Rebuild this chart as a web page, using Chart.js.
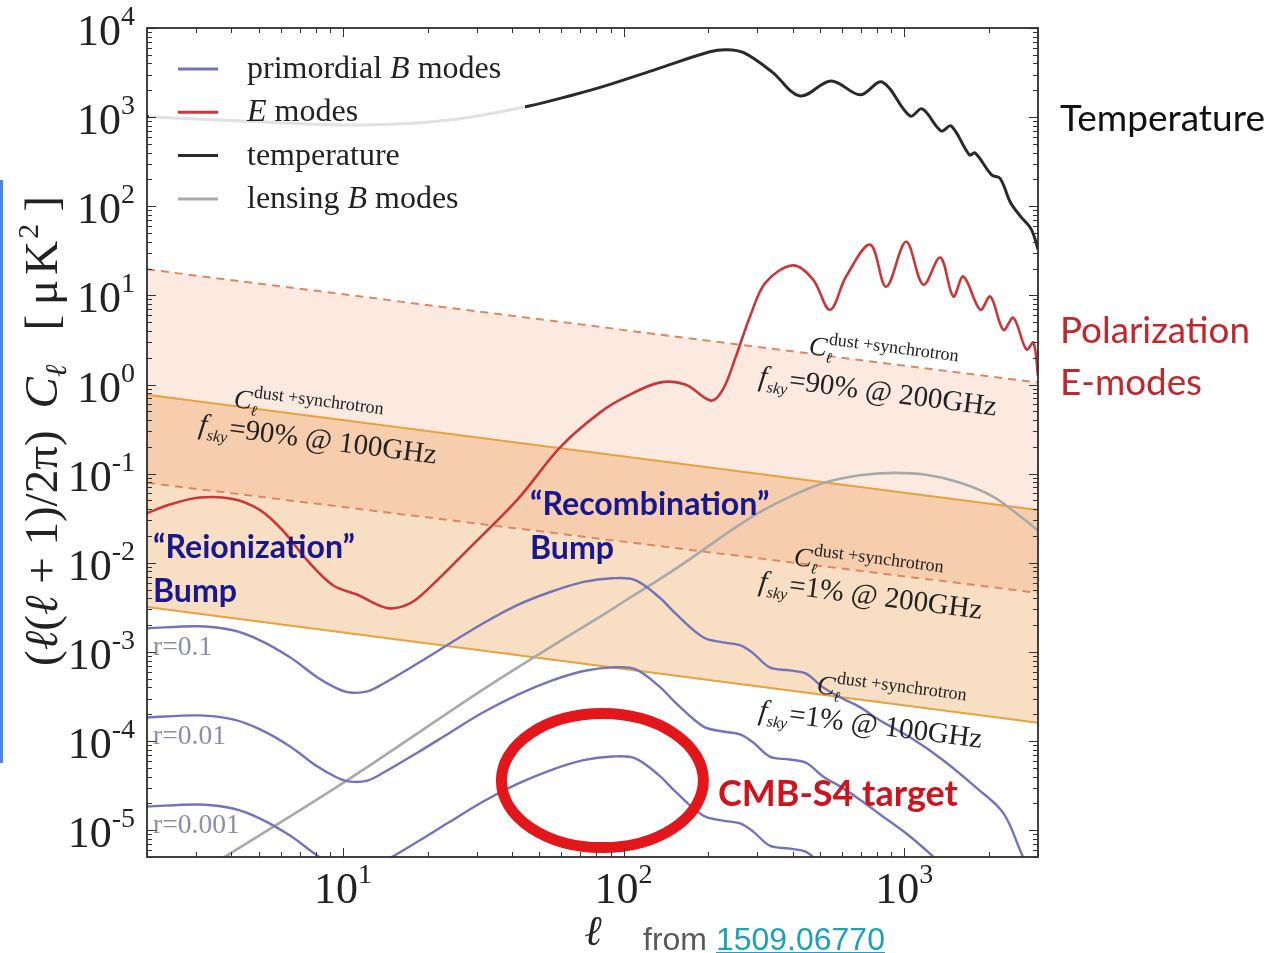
<!DOCTYPE html>
<html>
<head>
<meta charset="utf-8">
<script src="https://cdn.jsdelivr.net/npm/chart.js@4/dist/chart.umd.min.js"></script>
<style>
  html, body { margin: 0; padding: 0; background: #fff; }
  #cmb { display: block; }
</style>
</head>
<body>
<canvas id="cmb" width="1270" height="953"></canvas>
<script>
// multipole values and l(l+1)Cl/2pi [uK^2]
const ellTemp = [2, 4.5, 11.6, 24, 46, 65, 86, 132, 203, 233, 268, 338, 425, 549, 697, 834, 1050, 1160, 1355, 1470, 1710, 1790, 2050, 2200, 2390, 2600, 2840, 3000];
const clTemp = [1010, 900, 817, 927, 1334, 1750, 2240, 3480, 5410, 5700, 5280, 3220, 1730, 2550, 1780, 2480, 1030, 1240, 700, 796, 376, 396, 225, 205, 111, 77, 55, 33];

const ellE = [2, 2.41, 3.08, 4.05, 5.06, 6.1, 7.44, 9.2, 11.2, 14.4, 17.3, 20.5, 27.7, 41.8, 59.6, 82.7, 102, 134, 166, 205, 226, 251, 282, 321, 402, 473, 544, 621, 757, 863, 1016, 1170, 1345, 1497, 1626, 1868, 2028, 2258, 2450, 2727, 2890, 3000];
const clE = [0.036, 0.045, 0.054, 0.052, 0.039, 0.023, 0.0107, 0.0056, 0.0044, 0.0031, 0.0035, 0.0054, 0.0138, 0.051, 0.2, 0.49, 0.73, 1.05, 1.0, 0.66, 0.88, 2.04, 5.75, 14, 21.7, 15.1, 6.9, 16.3, 37, 12.5, 40, 13.2, 26.6, 9.7, 16.3, 6.9, 9.7, 4.1, 5.6, 2.47, 2.95, 1.25];

const ellLens = [3.5, 10.3, 31.6, 60, 82.8, 102, 134, 176, 231, 306, 401, 526, 696, 914, 1199, 1585, 2080, 2600, 3000];
const clLens = [4.3e-6, 3.6e-5, 3.8e-4, 1.35e-3, 2.5e-3, 3.8e-3, 6.5e-3, 0.0115, 0.021, 0.037, 0.057, 0.08, 0.096, 0.102, 0.097, 0.079, 0.055, 0.033, 0.023];

const ellPrim = [2, 3.08, 4.05, 5.06, 6.47, 8.08, 9.5, 10.6, 12.2, 13.9, 18.4, 24.1, 31.6, 41.8, 54.8, 72, 91, 110, 134, 153, 192, 226, 260, 289, 332, 391, 447, 514, 591, 696, 821, 1050, 1377, 1807, 2258, 2662, 3000];
const clR01 = [1.84e-3, 1.94e-3, 1.75e-3, 1.35e-3, 8.7e-4, 5.2e-4, 3.9e-4, 3.5e-4, 3.6e-4, 4.4e-4, 7.4e-4, 1.25e-3, 2.1e-3, 3.35e-3, 4.7e-3, 6.1e-3, 6.7e-3, 6.4e-3, 4.1e-3, 2.7e-3, 1.46e-3, 1.28e-3, 1.19e-3, 9.7e-4, 6.7e-4, 6.2e-4, 5.7e-4, 4.0e-4, 3.1e-4, 2.4e-4, 1.7e-4, 1.1e-4, 6.1e-5, 3.0e-5, 1.55e-5, 4.9e-6, 2.5e-6];
const clR001 = [1.84e-4, 1.94e-4, 1.75e-4, 1.35e-4, 8.7e-5, 5.2e-5, 3.9e-5, 3.5e-5, 3.6e-5, 4.4e-5, 7.4e-5, 1.25e-4, 2.1e-4, 3.3e-4, 4.7e-4, 6.1e-4, 6.7e-4, 6.4e-4, 4.1e-4, 2.7e-4, 1.46e-4, 1.28e-4, 1.19e-4, 9.7e-5, 6.7e-5, 6.2e-5, 5.7e-5, 4.0e-5, 3.1e-5, 2.2e-5, 1.5e-5, 8.5e-6, 4.0e-6, 1.8e-6, 9e-7, 4e-7, 2e-7];
const clR0001 = [1.84e-5, 1.94e-5, 1.75e-5, 1.35e-5, 8.7e-6, 5.2e-6, 3.9e-6, 3.5e-6, 3.6e-6, 4.4e-6, 7.4e-6, 1.25e-5, 2.1e-5, 3.3e-5, 4.7e-5, 6.1e-5, 6.7e-5, 6.4e-5, 4.1e-5, 2.7e-5, 1.46e-5, 1.28e-5, 1.19e-5, 9.7e-6, 6.7e-6, 6.2e-6, 5.7e-6, 4.0e-6, 3.1e-6, 2.2e-6, 1.5e-6, 8.5e-7, 4.0e-7, 1.8e-7, 9e-8, 4e-8, 2e-8];

// dust + synchrotron foreground power laws
const ellDust = [2, 3000];
const dust90at200 = [19.6, 1.05];
const dust90at100 = [0.77, 0.039];
const dust1at200 = [0.079, 0.0046];
const dust1at100 = [0.0032, 0.00016];

const xTickPowers = [1, 2, 3];
const yTickPowers = [4, 3, 2, 1, 0, -1, -2, -3, -4, -5];

// target ellipse centre (ell, value)
const targetCentre = [84, 3.6e-5];

const SERIF = '"Liberation Serif", "DejaVu Serif", serif';
const SANS = 'Lato, "Open Sans", sans-serif';
const BLUE = '#7373b9';

function pts(xs, ys) {
  return xs.map((x, i) => ({ x: x, y: ys[i] }));
}

function curve(label, xs, ys, color, width) {
  return {
    label: label,
    data: pts(xs, ys),
    borderColor: color,
    borderWidth: width,
    pointRadius: 0,
    fill: false,
    tension: 0.35
  };
}

const datasets = [
  curve('E modes', ellE, clE, '#c8383b', 2.6),
  curve('temperature', ellTemp, clTemp, '#2a2a2a', 3),
  curve('primordial B modes', ellPrim, clR01, BLUE, 2.4),
  curve('r=0.01', ellPrim, clR001, BLUE, 2.4),
  curve('r=0.001', ellPrim, clR0001, BLUE, 2.4),
  curve('lensing B modes', ellLens, clLens, '#a9a9a9', 2.6),
  { label: 'fsky 90% 200GHz', data: pts(ellDust, dust90at200), borderColor: '#d98a62', borderWidth: 2, borderDash: [8, 6],
    pointRadius: 0, tension: 0, fill: 8, backgroundColor: 'rgba(240,140,90,0.18)' },
  { label: 'fsky 90% 100GHz', data: pts(ellDust, dust90at100), borderColor: '#e6a23e', borderWidth: 2,
    pointRadius: 0, tension: 0, fill: 9, backgroundColor: 'rgba(235,160,80,0.35)' },
  { label: 'fsky 1% 200GHz', data: pts(ellDust, dust1at200), borderColor: '#d98a62', borderWidth: 2, borderDash: [8, 6],
    pointRadius: 0, tension: 0, fill: false },
  { label: 'fsky 1% 100GHz', data: pts(ellDust, dust1at100), borderColor: '#e6a23e', borderWidth: 2,
    pointRadius: 0, tension: 0, fill: false }
];

// draw a run of text pieces (sub/superscripts via dy), returns width
function drawParts(ctx, x, y, parts, color, measureOnly) {
  let cx = x;
  for (const p of parts) {
    ctx.font = p.f;
    if (!measureOnly) {
      ctx.fillStyle = p.c || color;
      ctx.fillText(p.t, cx + (p.dx || 0), y + (p.dy || 0));
    }
    if (!p.stay) cx += ctx.measureText(p.t).width + (p.dx || 0);
  }
  return cx - x;
}

function fitSize(ctx, text, fontFn, target) {
  ctx.font = fontFn(100);
  return 100 * target / ctx.measureText(text).width;
}

function dustLabel(ctx, ang, cPos, fPos, rest) {
  const cParts = [
    { t: 'C', f: `italic 27px ${SERIF}` },
    { t: 'ℓ', f: `italic 15px ${SERIF}`, dy: 6, stay: true },
    { t: 'dust +synchrotron', f: `18px ${SERIF}`, dy: -12, dx: 1 }
  ];
  const fParts = [
    { t: 'f', f: `italic 29px ${SERIF}` },
    { t: 'sky', f: `italic 16px ${SERIF}`, dy: 6, dx: 1 },
    { t: rest, f: `29px ${SERIF}`, dx: 1 }
  ];
  for (const [pos, parts] of [[cPos, cParts], [fPos, fParts]]) {
    ctx.save();
    ctx.translate(pos[0], pos[1]);
    ctx.rotate(ang);
    drawParts(ctx, 0, 0, parts, '#222');
    ctx.restore();
  }
}

const overlay = {
  id: 'overlay',
  afterDatasetsDraw(chart) {
    const ctx = chart.ctx;
    const a = chart.chartArea;
    const xs = chart.scales.x, ys = chart.scales.y;
    ctx.save();
    ctx.textBaseline = 'alphabetic';
    ctx.textAlign = 'left';

    // legend (semi-transparent white box on top of the curves)
    ctx.fillStyle = 'rgba(255,255,255,0.86)';
    ctx.fillRect(a.left + 2, a.top + 2, 376, 196);
    const legendRows = [
      { ds: 2, parts: [{ t: 'primordial ', f: `32px ${SERIF}` }, { t: 'B', f: `italic 32px ${SERIF}` }, { t: ' modes', f: `32px ${SERIF}` }] },
      { ds: 0, parts: [{ t: 'E', f: `italic 32px ${SERIF}` }, { t: ' modes', f: `32px ${SERIF}` }] },
      { ds: 1, parts: [{ t: 'temperature', f: `32px ${SERIF}` }] },
      { ds: 5, parts: [{ t: 'lensing ', f: `32px ${SERIF}` }, { t: 'B', f: `italic 32px ${SERIF}` }, { t: ' modes', f: `32px ${SERIF}` }] }
    ];
    legendRows.forEach((row, i) => {
      const y = a.top + 41 + i * 43.3;
      const ds = chart.data.datasets[row.ds];
      ctx.strokeStyle = ds.borderColor;
      ctx.lineWidth = 3;
      ctx.setLineDash([]);
      ctx.beginPath();
      ctx.moveTo(a.left + 31, y);
      ctx.lineTo(a.left + 71, y);
      ctx.stroke();
      drawParts(ctx, a.left + 100, y + 9, row.parts, '#222');
    });

    // foreground labels, rotated along the power-law lines
    const ang = Math.atan2(ys.getPixelForValue(dust90at100[1]) - ys.getPixelForValue(dust90at100[0]),
                           xs.getPixelForValue(ellDust[1]) - xs.getPixelForValue(ellDust[0]));
    dustLabel(ctx, ang, [233, 407], [198, 433], '=90% @ 100GHz');
    dustLabel(ctx, ang, [808, 354], [758, 385], '=90% @ 200GHz');
    dustLabel(ctx, ang, [793, 565], [758, 590], '=1% @ 200GHz');
    dustLabel(ctx, ang, [816, 693], [758, 719], '=1% @ 100GHz');

    // r labels
    const rFont = s => `${s}px ${SERIF}`;
    const rSize = fitSize(ctx, 'r=0.001', rFont, 87);
    ctx.font = rFont(rSize);
    ctx.fillStyle = '#8d8da6';
    ctx.fillText('r=0.1', a.left + 6, 655);
    ctx.fillText('r=0.01', a.left + 6, 744);
    ctx.fillText('r=0.001', a.left + 6, 833);

    // bump annotations
    const bold = s => `bold ${s}px ${SANS}`;
    const bSize = fitSize(ctx, '\u201CReionization\u201D', bold, 202);
    ctx.font = bold(bSize);
    ctx.fillStyle = '#17178f';
    ctx.fillText('\u201CReionization\u201D', 153, 558);
    ctx.fillText('Bump', 153, 602);
    ctx.fillText('\u201CRecombination\u201D', 530, 515);
    ctx.fillText('Bump', 530, 559);

    // CMB-S4 target ellipse + label
    const cx = xs.getPixelForValue(targetCentre[0]);
    const cy = ys.getPixelForValue(targetCentre[1]);
    ctx.strokeStyle = '#e3161c';
    ctx.lineWidth = 11;
    ctx.beginPath();
    ctx.ellipse(cx, cy, 101, 67, 0, 0, Math.PI * 2);
    ctx.stroke();
    const tSize = fitSize(ctx, 'CMB-S4 target', bold, 240);
    ctx.font = bold(tSize);
    ctx.fillStyle = '#d0121c';
    ctx.fillText('CMB-S4 target', 718, 806);

    // frame and inward ticks
    ctx.strokeStyle = '#333';
    ctx.lineWidth = 1;
    for (let e = 0; e <= 4; e++) {
      for (let m = 1; m < 10; m++) {
        const v = m * Math.pow(10, e);
        if (v < xs.min || v > xs.max) continue;
        const px = Math.round(xs.getPixelForValue(v)) + 0.5;
        const len = m === 1 ? 9 : 5;
        ctx.beginPath();
        ctx.moveTo(px, a.bottom); ctx.lineTo(px, a.bottom - len);
        ctx.moveTo(px, a.top); ctx.lineTo(px, a.top + len);
        ctx.stroke();
      }
    }
    for (let e = -6; e <= 4; e++) {
      for (let m = 1; m < 10; m++) {
        const v = m * Math.pow(10, e);
        if (v < ys.min * 0.999 || v > ys.max * 1.001) continue;
        const py = Math.round(ys.getPixelForValue(v)) + 0.5;
        const len = m === 1 ? 9 : 5;
        ctx.beginPath();
        ctx.moveTo(a.left, py); ctx.lineTo(a.left + len, py);
        ctx.moveTo(a.right, py); ctx.lineTo(a.right - len, py);
        ctx.stroke();
      }
    }
    ctx.lineWidth = 1.8;
    ctx.strokeStyle = '#2e2e2e';
    ctx.strokeRect(a.left, a.top, a.right - a.left, a.bottom - a.top);

    // tick labels 10^n
    const tickParts = p => [
      { t: '10', f: `44px ${SERIF}` },
      { t: String(p), f: `28px ${SERIF}`, dy: -20 }
    ];
    for (const p of xTickPowers) {
      const parts = tickParts(p);
      const w = drawParts(ctx, 0, 0, parts, '#222', true);
      drawParts(ctx, xs.getPixelForValue(Math.pow(10, p)) - w / 2, a.bottom + 46, parts, '#222');
    }
    for (const p of yTickPowers) {
      const parts = tickParts(p);
      const w = drawParts(ctx, 0, 0, parts, '#222', true);
      drawParts(ctx, a.left - 12 - w, ys.getPixelForValue(Math.pow(10, p)) + 17, parts, '#222');
    }

    // axis titles
    ctx.font = `italic 42px ${SERIF}`;
    ctx.fillStyle = '#222';
    ctx.textAlign = 'center';
    ctx.fillText('ℓ', 593, 945);
    ctx.textAlign = 'left';

    const F = `47px ${SERIF}`, FI = `italic 47px ${SERIF}`;
    const yTitle = [
      { t: '(', f: F }, { t: 'ℓ', f: FI }, { t: '(', f: F }, { t: 'ℓ', f: FI },
      { t: ' + 1)/2π)', f: F }, { t: 'C', f: FI, dx: 22 },
      { t: 'ℓ', f: `italic 30px ${SERIF}`, dy: 9 }, { t: '[', f: F, dx: 34 },
      { t: 'μ', f: F, dx: 10 }, { t: 'K', f: F, dx: 5 },
      { t: '2', f: `30px ${SERIF}`, dy: -19, dx: 2 }, { t: ']', f: F, dx: 12 }
    ];
    ctx.save();
    ctx.translate(57, 666);
    ctx.rotate(-Math.PI / 2);
    drawParts(ctx, 0, 0, yTitle, '#222');
    ctx.restore();

    // right-hand annotations
    const reg = s => `${s}px ${SANS}`;
    ctx.font = reg(fitSize(ctx, 'Temperature', reg, 205));
    ctx.fillStyle = '#111';
    ctx.fillText('Temperature', 1060, 131);
    ctx.font = reg(fitSize(ctx, 'Polarization', reg, 190));
    ctx.fillStyle = '#c1272d';
    ctx.fillText('Polarization', 1060, 343);
    ctx.fillText('E-modes', 1060, 395);

    // source note
    const sans2 = s => `${s}px "Liberation Sans", Arial, sans-serif`;
    const sSize = fitSize(ctx, 'from 1509.06770', sans2, 242);
    ctx.font = sans2(sSize);
    ctx.fillStyle = '#595959';
    ctx.fillText('from ', 643, 950);
    const fw = ctx.measureText('from ').width;
    ctx.fillStyle = '#1ba2b5';
    ctx.fillText('1509.06770', 643 + fw, 950);
    const lw = ctx.measureText('1509.06770').width;
    ctx.fillRect(643 + fw, 952, lw, 1.5);

    // blue bar at left edge
    ctx.fillStyle = '#4a86e8';
    ctx.fillRect(0, 180, 3, 583);

    ctx.restore();
  }
};

new Chart(document.getElementById('cmb'), {
  type: 'line',
  data: { datasets: datasets },
  options: {
    responsive: false,
    animation: false,
    events: [],
    layout: { padding: { left: 147, right: 232, top: 28, bottom: 96 } },
    scales: {
      x: { type: 'logarithmic', min: 2, max: 3000, display: false },
      y: { type: 'logarithmic', min: 5e-6, max: 1e4, display: false }
    },
    plugins: {
      legend: { display: false },
      tooltip: { enabled: false },
      filler: { drawTime: 'beforeDatasetsDraw' }
    }
  },
  plugins: [overlay]
});
</script>
</body>
</html>
